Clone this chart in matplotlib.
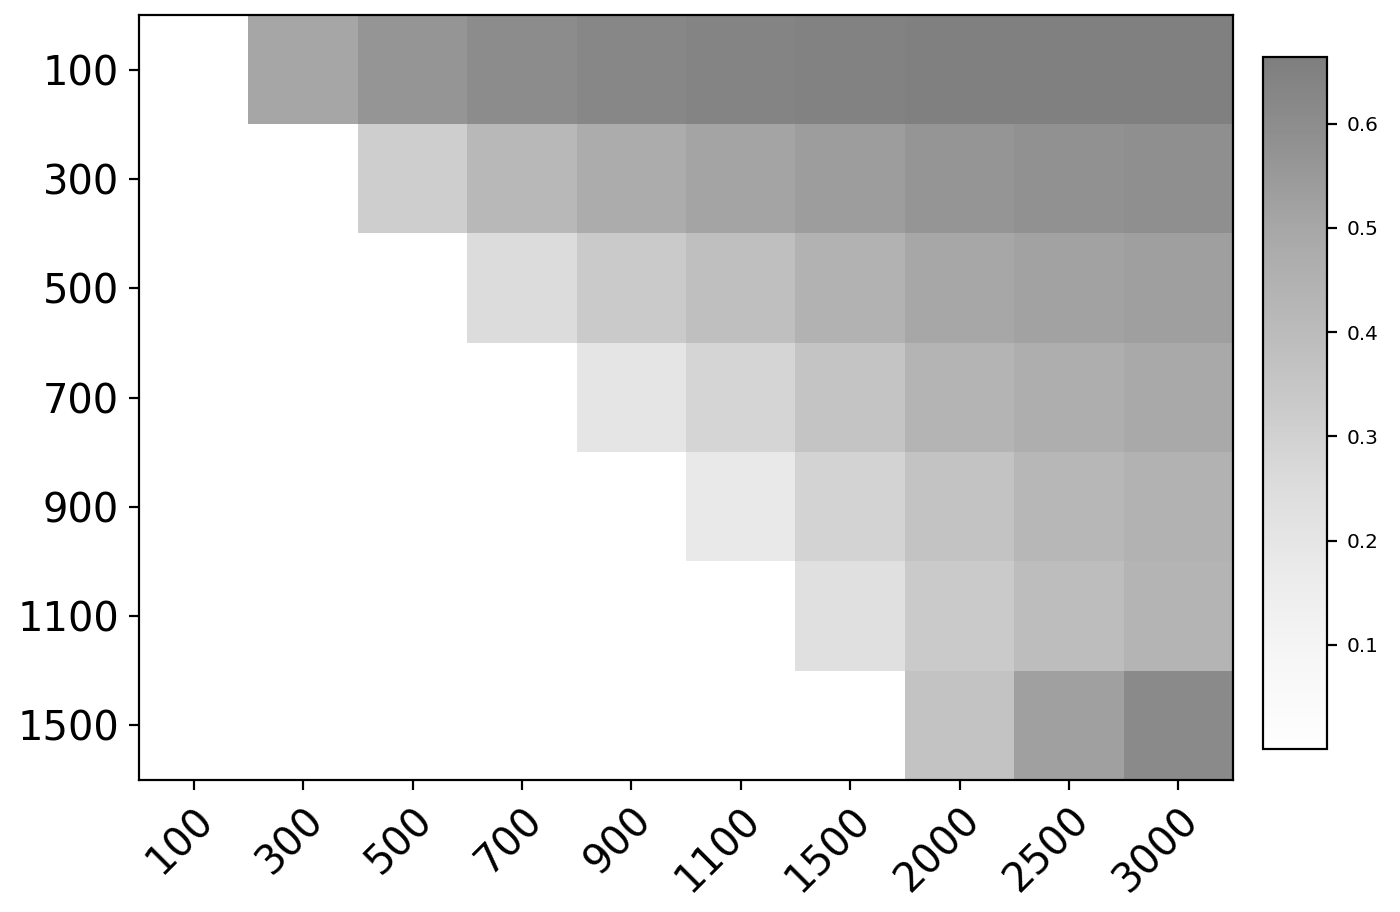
import numpy as np
import matplotlib
matplotlib.use("Agg")
from matplotlib import pyplot as plt

# rows / columns of the grid
row_labels = ["100", "300", "500", "700", "900", "1100", "1500"]
col_labels = ["100", "300", "500", "700", "900", "1100", "1500", "2000", "2500", "3000"]

# values (0 = empty cell)
r100 = [0, 0.508, 0.570, 0.609, 0.630, 0.644, 0.653, 0.660, 0.662, 0.664]
r300 = [0, 0, 0.315, 0.417, 0.477, 0.512, 0.541, 0.570, 0.586, 0.592]
r500 = [0, 0, 0, 0.256, 0.334, 0.384, 0.446, 0.502, 0.523, 0.534]
r700 = [0, 0, 0, 0, 0.205, 0.285, 0.360, 0.436, 0.467, 0.497]
r900 = [0, 0, 0, 0, 0, 0.181, 0.294, 0.364, 0.422, 0.446]
r1100 = [0, 0, 0, 0, 0, 0, 0.234, 0.334, 0.393, 0.436]
r1500 = [0, 0, 0, 0, 0, 0, 0, 0.364, 0.527, 0.617]

data = np.array([r100, r300, r500, r700, r900, r1100, r1500])

fig = plt.figure(figsize=(1400 / 144, 912 / 144), dpi=144)
ax = fig.add_axes([139 / 1400, 1 - 780 / 912, 1094 / 1400, 765 / 912])
cax = fig.add_axes([1263 / 1400, 1 - 749 / 912, 64 / 1400, 692 / 912])

im = ax.imshow(data, cmap="Greys", alpha=0.5, aspect="auto")
ax.set_xticks(range(len(col_labels)))
ax.set_xticklabels(col_labels, fontsize=20)
ax.set_yticks(range(len(row_labels)))
ax.set_yticklabels(row_labels, fontsize=20)
plt.setp(ax.get_xticklabels(), rotation=45, ha="right", rotation_mode="anchor")
ax.tick_params(length=5, width=1.1, pad=5)
for s in ax.spines.values():
    s.set_linewidth(1.1)

cb = fig.colorbar(im, cax=cax)
cb.set_ticks([0.1, 0.2, 0.3, 0.4, 0.5, 0.6])
cb.ax.tick_params(labelsize=10, length=5, width=1.1, pad=5)
cb.outline.set_linewidth(1.1)

fig.savefig("out.png", dpi=144)
